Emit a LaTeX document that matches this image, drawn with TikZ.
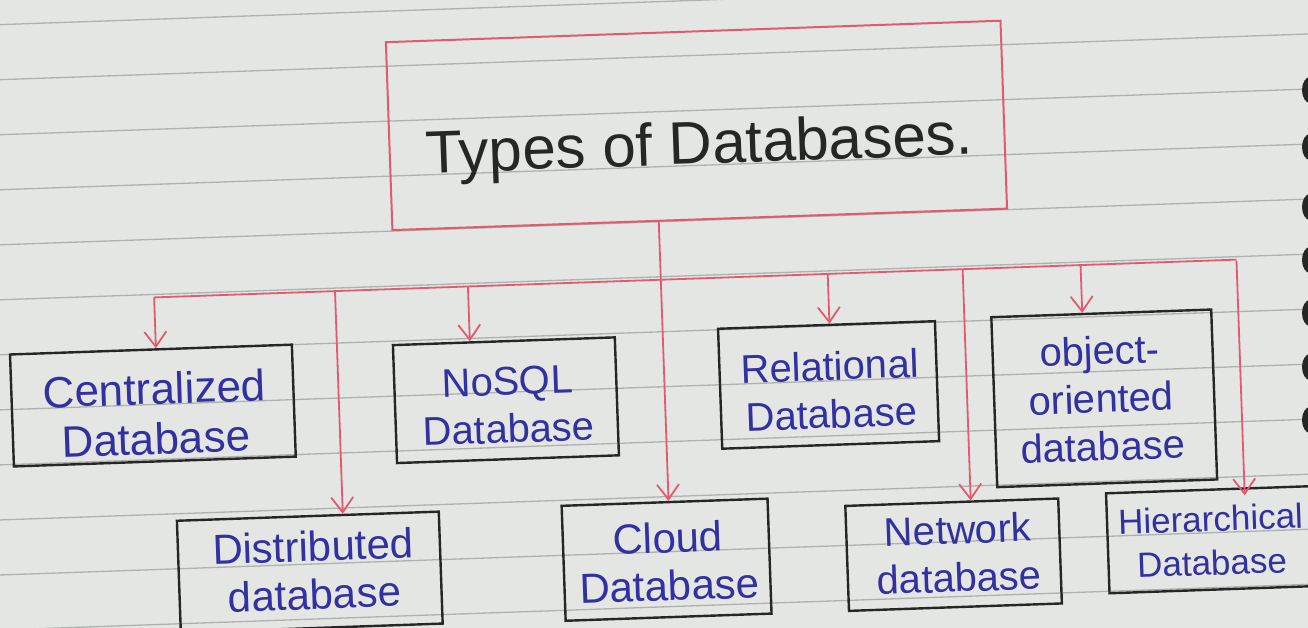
\documentclass[tikz,border=0pt]{standalone}
\usepackage{fontspec}
\setmainfont{Liberation Sans}
\usetikzlibrary{arrows.meta}
\definecolor{paper}{HTML}{E4E6E3}
\definecolor{ruleink}{HTML}{AEB2AF}
\definecolor{redink}{HTML}{E05A72}
\definecolor{blueink}{HTML}{3330A0}
\definecolor{pencil}{HTML}{262626}
\begin{document}
\begin{tikzpicture}[x=1pt,y=-1pt,
  dbbox/.style={draw=pencil, line width=2.4pt, inner sep=0pt},
  dbtext/.style={text=blueink, align=center, inner sep=0pt, font=\fontsize{40}{48}\selectfont},
  bigtext/.style={dbtext, font=\fontsize{44}{50}\selectfont},
  midtext/.style={dbtext, font=\fontsize{42}{48}\selectfont},
  smalltext/.style={dbtext, font=\fontsize{35}{44}\selectfont},
  titlebox/.style={draw=redink, line width=2pt, inner sep=0pt},
  titletext/.style={text=pencil, inner sep=0pt, font=\fontsize{60}{64}\selectfont},
  link/.style={draw=redink, line width=1.8pt},
  tip/.style={link, -{Straight Barb[length=15pt,width=22pt,line width=1.8pt]}},
  ruling/.style={draw=ruleink, line width=1.3pt},
  hole/.style={fill=black!85}]
\fill[paper] (0,0) rectangle (1308,628);
\useasboundingbox (0,0) rectangle (1308,628);
\clip (0,0) rectangle (1308,628);
\begin{scope}[rotate around={2:(654,314)}, transform shape]
  % ruled paper lines
  \foreach \k in {-1,...,12} \draw[ruling] (-120,{2+55*\k}) -- (1430,{2+55*\k});
  % title
  \node[titlebox, minimum width=615pt, minimum height=188pt] (title) at (703,127) {};
  \node[titletext] (titletxt) at (705,150) {Types of Databases.};
  % boxes
  \node[dbbox, minimum width=282pt, minimum height=112pt] (cent) at (150,388) {};
  \node[bigtext] (centtxt) at (152,396) {Centralized\\Database};
  \node[dbbox, minimum width=222pt, minimum height=118pt] (nosql) at (503,395) {};
  \node[dbtext] (nosqltxt) at (505,400) {NoSQL\\Database};
  \node[dbbox, minimum width=217pt, minimum height=120pt] (rel) at (826,391) {};
  \node[dbtext] (reltxt) at (828,396) {Relational\\Database};
  \node[dbbox, minimum width=220pt, minimum height=170pt] (obj) at (1101,414) {};
  \node[dbtext] (objtxt) at (1098,414) {object-\\oriented\\database};
  \node[dbbox, minimum width=262pt, minimum height=112pt] (dist) at (301,560) {};
  \node[midtext] (disttxt) at (305,558) {Distributed\\database};
  \node[dbbox, minimum width=206pt, minimum height=115pt] (cloud) at (658,560) {};
  \node[midtext] (cloudtxt) at (660,562) {Cloud\\Database};
  \node[dbbox, minimum width=213pt, minimum height=105pt] (net) at (945,565) {};
  \node[dbtext] (nettxt) at (950,564) {Network\\database};
  \node[dbbox, minimum width=205pt, minimum height=100pt] (hier) at (1202,559) {};
  \node[smalltext] (hiertxt) at (1203,560) {Hierarchical\\Database};
  % bus junctions
  \coordinate (bC) at (155,280);
  \coordinate (bD) at (336,280);
  \coordinate (bN) at (469,280);
  \coordinate (bT) at (662,280);
  \coordinate (bR) at (829,280);
  \coordinate (bW) at (964,280);
  \coordinate (bO) at (1082,280);
  \coordinate (bH) at (1238,280);
  % connectors
  \draw[link] (bC) -- (bH);
  \draw[tip] (title.south -| bT) -- (bT |- cloud.north);
  \draw[tip] (bC) -- (bC |- cent.north);
  \draw[tip] (bD) -- (bD |- dist.north);
  \draw[tip] (bN) -- (bN |- nosql.north);
  \draw[tip] (bR) -- (bR |- rel.north);
  \draw[tip] (bW) -- (bW |- net.north);
  \draw[tip] (bO) -- (bO |- obj.north);
  \draw[tip] ([yshift=-1pt]bH) -- ([yshift=-8pt]bH |- hier.north);
\end{scope}
% binder holes at the right edge
\foreach \y in {90,147,207,260,313,367,420}
  \fill[hole] (1310,\y) ellipse [x radius=8pt, y radius=13pt];
\end{tikzpicture}
\end{document}
